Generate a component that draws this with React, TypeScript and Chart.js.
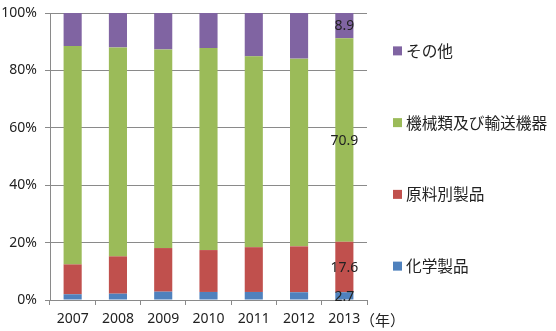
import React, { useEffect, useRef } from 'react';
import { Chart, registerables } from 'chart.js';

Chart.register(...registerables);

const years = ['2007', '2008', '2009', '2010', '2011', '2012', '2013'];
const chemicals = [2.0, 2.2, 2.9, 2.8, 2.8, 2.7, 2.7];
const materials = [10.4, 13.0, 15.2, 14.6, 15.6, 16.0, 17.6];
const machinery = [76.1, 72.8, 69.2, 70.4, 66.5, 65.4, 70.9];
const others = [11.5, 12.0, 12.7, 12.2, 15.1, 15.9, 8.9];
const seriesNames = ['化学製品', '原料別製品', '機械類及び輸送機器', 'その他'];
const seriesColors = ['#4f81bd', '#c0504d', '#9bbb59', '#8064a2'];
const labelledYear = '2013';
const yearUnit = '（年）';

const TEXT = '#222222';
const GRID = '#8a8a8a';
const NUM_FONT = '"Noto Sans", "Open Sans", sans-serif';
const CJK_FONT = '"Noto Sans CJK JP", sans-serif';

const extrasPlugin = {
  id: 'extras',
  afterDatasetsDraw(chart: any) {
    const { ctx, chartArea, data } = chart;
    const idx = data.labels.indexOf(labelledYear);
    ctx.save();
    // value labels on the last bar
    ctx.font = `14px ${NUM_FONT}`;
    ctx.fillStyle = TEXT;
    ctx.textAlign = 'center';
    ctx.textBaseline = 'middle';
    data.datasets.forEach((ds: any, i: number) => {
      const el = chart.getDatasetMeta(i).data[idx];
      if (!el) return;
      const v = ds.data[idx];
      ctx.fillText(v.toFixed(1), el.x, (el.y + el.base) / 2 + 1);
    });
    // year unit
    ctx.textAlign = 'left';
    ctx.font = `15px ${CJK_FONT}`;
    ctx.fillText(yearUnit, chartArea.right - 7, chartArea.bottom + 20);
    // legend (reversed order)
    const n = data.datasets.length;
    const band = (chartArea.bottom - chartArea.top) / n;
    ctx.font = `15.7px ${CJK_FONT}`;
    for (let k = 0; k < n; k++) {
      const ds = data.datasets[n - 1 - k];
      const cy = chartArea.top + band * (k + 0.5) + 2;
      ctx.fillStyle = ds.backgroundColor;
      ctx.fillRect(chartArea.right + 26, cy - 4.5, 9, 9);
      ctx.fillStyle = TEXT;
      ctx.textBaseline = 'middle';
      ctx.fillText(ds.label, chartArea.right + 39, cy);
    }
    ctx.restore();
  },
};

export default function App() {
  const ref = useRef<HTMLCanvasElement | null>(null);
  useEffect(() => {
    document.body.style.margin = '0';
    const canvas = ref.current;
    if (!canvas) return;
    const series = [chemicals, materials, machinery, others];
    const chart = new Chart(canvas, {
      type: 'bar',
      data: {
        labels: years,
        datasets: series.map((d, i) => ({
          label: seriesNames[i],
          data: d,
          backgroundColor: seriesColors[i],
          borderWidth: 0,
          barPercentage: 0.4,
          categoryPercentage: 1,
        })),
      },
      options: {
        responsive: false,
        animation: false,
        devicePixelRatio: 1,
        layout: { padding: { top: 13, right: 189, left: 0, bottom: 0 } },
        plugins: {
          legend: { display: false },
          tooltip: { enabled: false },
        },
        scales: {
          x: {
            stacked: true,
            grid: {
              offset: true,
              drawOnChartArea: false,
              drawTicks: true,
              tickLength: 5,
              color: GRID,
            },
            border: { color: GRID },
            ticks: { color: TEXT, font: { family: NUM_FONT, size: 14 }, padding: 6, maxRotation: 0 },
            afterFit: (s: any) => { s.height = 31; s.paddingLeft = 0; s.paddingRight = 0; },
          },
          y: {
            stacked: true,
            min: 0,
            max: 100,
            grid: { color: GRID, tickLength: 5 },
            border: { color: GRID },
            ticks: {
              stepSize: 20,
              color: TEXT,
              font: { family: NUM_FONT, size: 14 },
              padding: 8,
              callback: (v: any) => `${v}%`,
            },
            afterFit: (s: any) => { s.width = 50; s.paddingTop = 0; s.paddingBottom = 0; },
          },
        },
      },
      plugins: [extrasPlugin],
    });
    return () => chart.destroy();
  }, []);
  return (
    <div style={{ width: 556, height: 331, background: '#fff' }}>
      <canvas ref={ref} width={556} height={331} />
    </div>
  );
}
